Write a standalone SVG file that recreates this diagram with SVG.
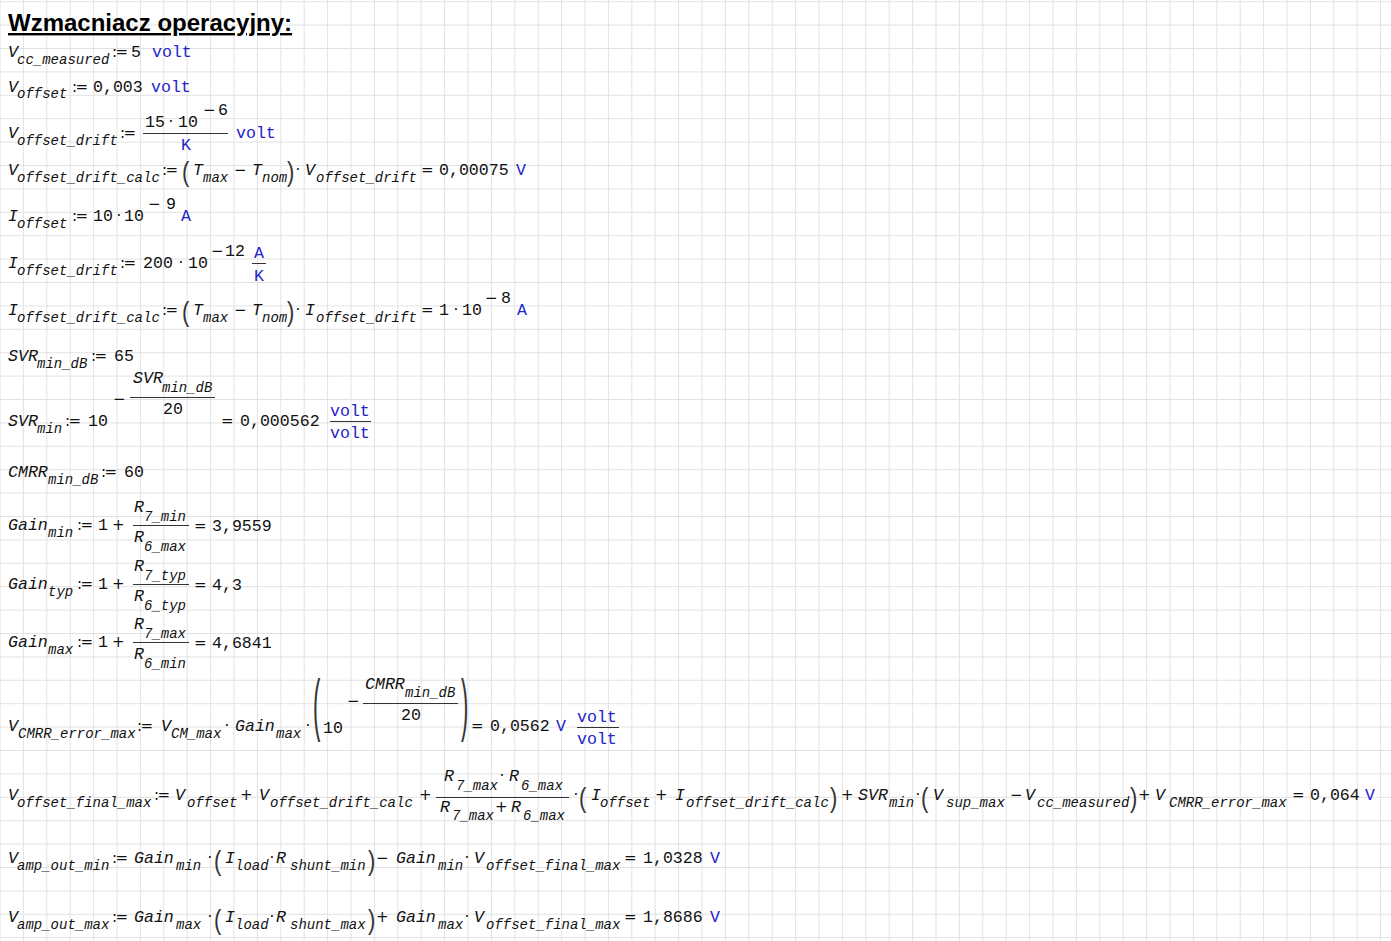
<svg xmlns="http://www.w3.org/2000/svg" width="1391" height="941" viewBox="0 0 1391 941">
<style>
.t{font-family:"Liberation Sans",Arial,sans-serif;font-weight:bold;font-size:24px;text-decoration:underline;fill:#000}
.v{font-family:"Liberation Mono",monospace;font-style:italic;font-size:16.6px;fill:#111}
.s{font-family:"Liberation Mono",monospace;font-style:italic;font-size:14px;fill:#111}
.n{font-family:"Liberation Mono",monospace;font-size:16.6px;fill:#111}
.u{font-family:"Liberation Mono",monospace;font-size:16.6px;fill:#2424c8}
.o{font-family:"DejaVu Sans",sans-serif;font-size:15px;fill:#111}
.d{font-family:"DejaVu Sans",sans-serif;font-size:15px;fill:#111}
.a{font-family:"DejaVu Sans",sans-serif;font-size:15px;fill:#111;letter-spacing:-1.5px}
.p{font-family:"Liberation Sans",sans-serif;font-size:22px;fill:#333}
.f{stroke:#333;stroke-width:1}
</style>
<defs>
<pattern id="grid" x="-0.5" y="1.2" width="23.4" height="23.4" patternUnits="userSpaceOnUse"><path d="M0 0.5H23.4M0.5 0V23.4" stroke="#e2e2e2" stroke-width="1" fill="none"/></pattern>
</defs>
<rect width="1391" height="941" fill="#fff"/>
<rect width="1391" height="941" fill="url(#grid)"/>

<g id="title"><text class="t" x="8" y="31">Wzmacniacz operacyjny:</text></g>

<g id="eq-vcc">
<text class="v" x="8" y="57">V</text><text class="s" x="17" y="64">cc_measured</text><text class="a" x="112" y="57">:=</text><text class="n" x="131" y="57">5</text><text class="u" x="152" y="57">volt</text>
</g>

<g id="eq-voffset">
<text class="v" x="8" y="92">V</text><text class="s" x="17" y="98">offset</text><text class="a" x="72" y="92">:=</text><text class="n" x="93" y="92">0,003</text><text class="u" x="151" y="92">volt</text>
</g>

<g id="eq-voffset-drift">
<text class="v" x="8" y="138">V</text><text class="s" x="17" y="145">offset_drift</text><text class="a" x="120" y="138">:=</text>
<line class="f" x1="143" y1="133.5" x2="228" y2="133.5"/>
<text class="n" x="145" y="127">15</text><text class="d" x="168.6" y="127">·</text><text class="n" x="178" y="127">10</text>
<text class="o" x="203" y="115">−</text><text class="n" x="218" y="115">6</text>
<text class="u" x="181" y="150">K</text>
<text class="u" x="236" y="138">volt</text>
</g>

<g id="eq-voffset-drift-calc">
<text class="v" x="8" y="175">V</text><text class="s" x="17" y="182">offset_drift_calc</text><text class="a" x="162" y="175">:=</text>
<text class="p" transform="translate(182,181) scale(1,1.26)">(</text>
<text class="v" x="193" y="175">T</text><text class="s" x="203" y="182">max</text><text class="o" x="234" y="175">−</text><text class="v" x="252" y="175">T</text><text class="s" x="262" y="182">nom</text>
<text class="p" transform="translate(287,181) scale(1,1.26)">)</text>
<text class="d" x="295.6" y="175">·</text><text class="v" x="305" y="175">V</text><text class="s" x="316" y="182">offset_drift</text>
<text class="o" x="421" y="175">=</text><text class="n" x="439" y="175">0,00075</text><text class="u" x="516" y="175">V</text>
</g>

<g id="eq-ioffset">
<text class="v" x="8" y="221">I</text><text class="s" x="17" y="228">offset</text><text class="a" x="72" y="221">:=</text>
<text class="n" x="93" y="221">10</text><text class="d" x="116.6" y="221">·</text><text class="n" x="124" y="221">10</text>
<text class="o" x="148" y="209">−</text><text class="n" x="166" y="209">9</text>
<text class="u" x="181" y="221">A</text>
</g>

<g id="eq-ioffset-drift">
<text class="v" x="8" y="268">I</text><text class="s" x="17" y="275">offset_drift</text><text class="a" x="120" y="268">:=</text>
<text class="n" x="143" y="268">200</text><text class="d" x="178.6" y="268">·</text><text class="n" x="188" y="268">10</text>
<text class="o" x="211" y="256">−</text><text class="n" x="225" y="256">12</text>
<text class="u" x="254" y="258">A</text><line class="f" x1="252" y1="263.5" x2="266" y2="263.5"/><text class="u" x="254" y="281">K</text>
</g>

<g id="eq-ioffset-drift-calc">
<text class="v" x="8" y="315">I</text><text class="s" x="17" y="322">offset_drift_calc</text><text class="a" x="162" y="315">:=</text>
<text class="p" transform="translate(182,321) scale(1,1.26)">(</text>
<text class="v" x="193" y="315">T</text><text class="s" x="203" y="322">max</text><text class="o" x="234" y="315">−</text><text class="v" x="252" y="315">T</text><text class="s" x="262" y="322">nom</text>
<text class="p" transform="translate(287,321) scale(1,1.26)">)</text>
<text class="d" x="295.6" y="315">·</text><text class="v" x="305" y="315">I</text><text class="s" x="316" y="322">offset_drift</text>
<text class="o" x="421" y="315">=</text><text class="n" x="439" y="315">1</text><text class="d" x="453.6" y="315">·</text><text class="n" x="462" y="315">10</text>
<text class="o" x="485" y="303">−</text><text class="n" x="501" y="303">8</text>
<text class="u" x="517" y="315">A</text>
</g>

<g id="eq-svr-db">
<text class="v" x="8" y="361">SVR</text><text class="s" x="37" y="368">min_dB</text><text class="a" x="91" y="361">:=</text><text class="n" x="114" y="361">65</text>
</g>

<g id="eq-svr-min">
<text class="v" x="8" y="426">SVR</text><text class="s" x="37" y="433">min</text><text class="a" x="65" y="426">:=</text>
<text class="n" x="88" y="426">10</text>
<text class="o" x="113" y="404">−</text>
<line class="f" x1="130" y1="397.5" x2="215" y2="397.5"/>
<text class="v" x="133" y="383">SVR</text><text class="s" x="162" y="392">min_dB</text>
<text class="n" x="163" y="414">20</text>
<text class="o" x="221" y="426">=</text><text class="n" x="240" y="426">0,000562</text>
<text class="u" x="330" y="416">volt</text><line class="f" x1="330" y1="421.5" x2="371" y2="421.5"/><text class="u" x="330" y="438">volt</text>
</g>

<g id="eq-cmrr-db">
<text class="v" x="8" y="477">CMRR</text><text class="s" x="48" y="484">min_dB</text><text class="a" x="101" y="477">:=</text><text class="n" x="124" y="477">60</text>
</g>

<g id="eq-gain-min">
<text class="v" x="8" y="530">Gain</text><text class="s" x="48" y="537">min</text><text class="a" x="77" y="530">:=</text>
<text class="n" x="98" y="530">1</text><text class="o" x="112" y="530">+</text>
<line class="f" x1="133" y1="525.5" x2="189" y2="525.5"/>
<text class="v" x="134" y="512">R</text><text class="s" x="144" y="521">7_min</text>
<text class="v" x="134" y="542">R</text><text class="s" x="144" y="551">6_max</text>
<text class="o" x="194" y="531">=</text><text class="n" x="212" y="531">3,9559</text>
</g>

<g id="eq-gain-typ">
<text class="v" x="8" y="589">Gain</text><text class="s" x="48" y="596">typ</text><text class="a" x="77" y="589">:=</text>
<text class="n" x="98" y="589">1</text><text class="o" x="112" y="589">+</text>
<line class="f" x1="133" y1="584.5" x2="189" y2="584.5"/>
<text class="v" x="134" y="571">R</text><text class="s" x="144" y="580">7_typ</text>
<text class="v" x="134" y="601">R</text><text class="s" x="144" y="610">6_typ</text>
<text class="o" x="194" y="590">=</text><text class="n" x="212" y="590">4,3</text>
</g>

<g id="eq-gain-max">
<text class="v" x="8" y="647">Gain</text><text class="s" x="48" y="654">max</text><text class="a" x="77" y="647">:=</text>
<text class="n" x="98" y="647">1</text><text class="o" x="112" y="647">+</text>
<line class="f" x1="133" y1="642.5" x2="189" y2="642.5"/>
<text class="v" x="134" y="629">R</text><text class="s" x="144" y="638">7_max</text>
<text class="v" x="134" y="659">R</text><text class="s" x="144" y="668">6_min</text>
<text class="o" x="194" y="648">=</text><text class="n" x="212" y="648">4,6841</text>
</g>

<g id="eq-vcmrr">
<text class="v" x="8" y="731">V</text><text class="s" x="18" y="738">CMRR_error_max</text><text class="a" x="137" y="731">:=</text>
<text class="v" x="161" y="731">V</text><text class="s" x="171" y="738">CM_max</text><text class="d" x="224.6" y="731">·</text>
<text class="v" x="235" y="731">Gain</text><text class="s" x="276" y="738">max</text><text class="d" x="305.6" y="731">·</text>
<text class="p" transform="translate(313,727.5) scale(1,3.14)">(</text>
<text class="n" x="323" y="733">10</text>
<text class="o" x="347" y="706">−</text>
<line class="f" x1="363" y1="703.5" x2="458" y2="703.5"/>
<text class="v" x="365" y="689">CMRR</text><text class="s" x="405" y="697">min_dB</text>
<text class="n" x="401" y="720">20</text>
<text class="p" transform="translate(461,727.5) scale(1,3.14)">)</text>
<text class="o" x="471" y="731">=</text><text class="n" x="490" y="731">0,0562</text><text class="u" x="556" y="731">V</text>
<text class="u" x="577" y="722">volt</text><line class="f" x1="577" y1="727.5" x2="619" y2="727.5"/><text class="u" x="577" y="744">volt</text>
</g>

<g id="eq-voffset-final">
<text class="v" x="8" y="800">V</text><text class="s" x="17" y="807">offset_final_max</text><text class="a" x="154" y="800">:=</text>
<text class="v" x="175" y="800">V</text><text class="s" x="187" y="807">offset</text><text class="o" x="240" y="800">+</text>
<text class="v" x="259" y="800">V</text><text class="s" x="270" y="807">offset_drift_calc</text><text class="o" x="419" y="800">+</text>
<line class="f" x1="436" y1="797.5" x2="569" y2="797.5"/>
<text class="v" x="444" y="781">R</text><text class="s" x="456" y="790">7_max</text><text class="d" x="499.6" y="781">·</text><text class="v" x="509" y="781">R</text><text class="s" x="521" y="790">6_max</text>
<text class="v" x="440" y="812">R</text><text class="s" x="452" y="820">7_max</text><text class="o" x="495" y="812">+</text><text class="v" x="511" y="812">R</text><text class="s" x="523" y="820">6_max</text>
<text class="d" x="573.6" y="800">·</text>
<text class="p" transform="translate(579,807) scale(1,1.26)">(</text>
<text class="v" x="591" y="800">I</text><text class="s" x="600" y="807">offset</text><text class="o" x="655" y="800">+</text>
<text class="v" x="675" y="800">I</text><text class="s" x="686" y="807">offset_drift_calc</text>
<text class="p" transform="translate(830,807) scale(1,1.26)">)</text>
<text class="o" x="841" y="800">+</text>
<text class="v" x="858" y="800">SVR</text><text class="s" x="889" y="807">min</text><text class="d" x="915.6" y="800">·</text>
<text class="p" transform="translate(921,807) scale(1,1.26)">(</text>
<text class="v" x="933" y="800">V</text><text class="s" x="946" y="807">sup_max</text><text class="o" x="1010" y="800">−</text>
<text class="v" x="1025" y="800">V</text><text class="s" x="1037" y="807">cc_measured</text>
<text class="p" transform="translate(1130,807) scale(1,1.26)">)</text>
<text class="o" x="1138" y="800">+</text>
<text class="v" x="1155" y="800">V</text><text class="s" x="1169" y="807">CMRR_error_max</text>
<text class="o" x="1292" y="800">=</text><text class="n" x="1310" y="800">0,064</text><text class="u" x="1365" y="800">V</text>
</g>

<g id="eq-vamp-min">
<text class="v" x="8" y="863">V</text><text class="s" x="17" y="870">amp_out_min</text><text class="a" x="112" y="863">:=</text>
<text class="v" x="134" y="863">Gain</text><text class="s" x="176" y="870">min</text><text class="d" x="207.6" y="863">·</text>
<text class="p" transform="translate(214,870) scale(1,1.26)">(</text>
<text class="v" x="225" y="863">I</text><text class="s" x="235" y="870">load</text><text class="d" x="269.6" y="863">·</text>
<text class="v" x="276" y="863">R</text><text class="s" x="290" y="870">shunt_min</text>
<text class="p" transform="translate(368,870) scale(1,1.26)">)</text>
<text class="o" x="376" y="863">−</text>
<text class="v" x="396" y="863">Gain</text><text class="s" x="438" y="870">min</text><text class="d" x="464.6" y="863">·</text>
<text class="v" x="474" y="863">V</text><text class="s" x="486" y="870">offset_final_max</text>
<text class="o" x="624" y="863">=</text><text class="n" x="643" y="863">1,0328</text><text class="u" x="710" y="863">V</text>
</g>

<g id="eq-vamp-max">
<text class="v" x="8" y="922">V</text><text class="s" x="17" y="929">amp_out_max</text><text class="a" x="112" y="922">:=</text>
<text class="v" x="134" y="922">Gain</text><text class="s" x="176" y="929">max</text><text class="d" x="207.6" y="922">·</text>
<text class="p" transform="translate(214,929) scale(1,1.26)">(</text>
<text class="v" x="225" y="922">I</text><text class="s" x="235" y="929">load</text><text class="d" x="269.6" y="922">·</text>
<text class="v" x="276" y="922">R</text><text class="s" x="290" y="929">shunt_max</text>
<text class="p" transform="translate(368,929) scale(1,1.26)">)</text>
<text class="o" x="376" y="922">+</text>
<text class="v" x="396" y="922">Gain</text><text class="s" x="438" y="929">max</text><text class="d" x="464.6" y="922">·</text>
<text class="v" x="474" y="922">V</text><text class="s" x="486" y="929">offset_final_max</text>
<text class="o" x="624" y="922">=</text><text class="n" x="643" y="922">1,8686</text><text class="u" x="710" y="922">V</text>
</g>
</svg>
